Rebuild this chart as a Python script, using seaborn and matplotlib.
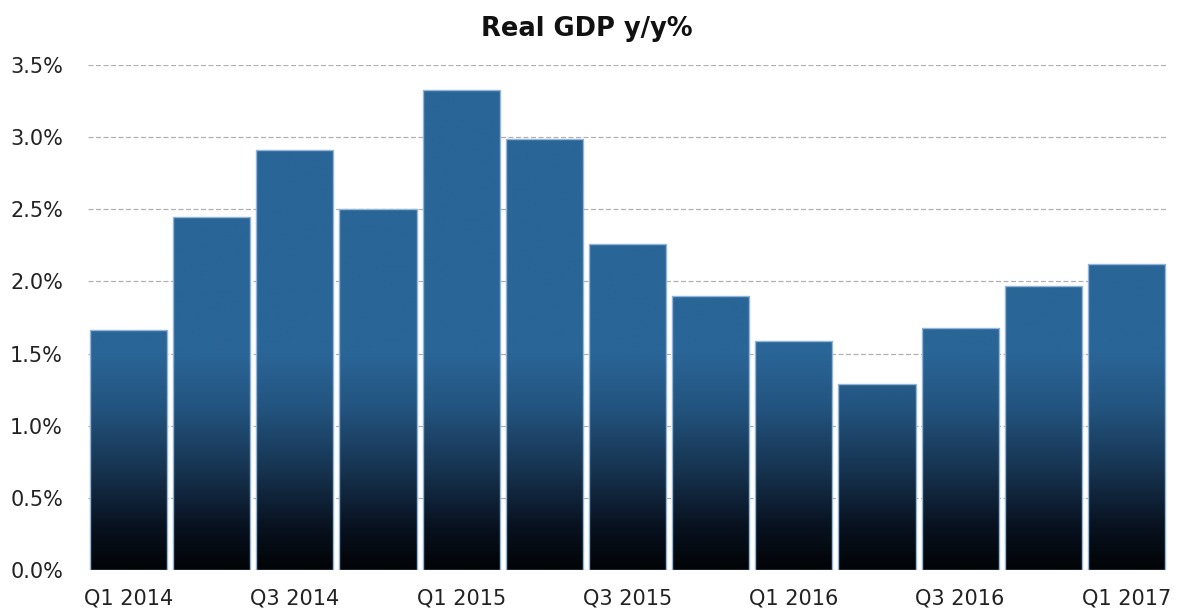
import numpy as np
import pandas as pd
import matplotlib
matplotlib.use("Agg")
import matplotlib.pyplot as plt
import seaborn as sns
from matplotlib.colors import LinearSegmentedColormap
from matplotlib.ticker import FuncFormatter

quarters = ["Q1 2014", "Q2 2014", "Q3 2014", "Q4 2014",
            "Q1 2015", "Q2 2015", "Q3 2015", "Q4 2015",
            "Q1 2016", "Q2 2016", "Q3 2016", "Q4 2016",
            "Q1 2017"]
gdp_yy = [1.66, 2.45, 2.91, 2.50, 3.33, 2.99, 2.26, 1.90,
          1.59, 1.29, 1.68, 1.97, 2.12]

df = pd.DataFrame({"quarter": quarters, "gdp": gdp_yy})

sns.set_style("white")
plt.rcParams["font.family"] = ["DejaVu Sans"]

fig = plt.figure(figsize=(11.77, 6.14), dpi=100)
ax = fig.add_axes([88 / 1177, 44 / 614, 1080 / 1177, 505 / 614])

sns.barplot(data=df, x="quarter", y="gdp", ax=ax, width=0.927,
            color="#2a6597", edgecolor="#92b5d8", linewidth=1.0, zorder=2)

xlim = (-0.488, len(quarters) - 0.5)
ax.set_xlim(*xlim)
ax.set_ylim(0, 3.5)

# vertical gradient, blue on top to black at the baseline
cmap = LinearSegmentedColormap.from_list(
    "gdp", [(0.0, "#020406"), (0.2, "#081220"), (0.45, "#16324e"),
            (0.75, "#23547f"), (1.0, "#2a6597")])
grad = np.clip(np.linspace(0, 3.5, 400) / 1.5, 0, 1).reshape(-1, 1)
for bar in ax.patches:
    bar.set_facecolor("none")
    x0, w = bar.get_x(), bar.get_width()
    im = ax.imshow(grad, cmap=cmap, vmin=0, vmax=1, origin="lower",
                   extent=[x0, x0 + w, 0, 3.5], aspect="auto", zorder=1.5)
    im.set_clip_path(bar)
ax.set_xlim(*xlim)
ax.set_ylim(0, 3.5)

ax.set_yticks(np.arange(0, 3.51, 0.5))
ax.yaxis.set_major_formatter(FuncFormatter(lambda v, p: f"{v:.1f}%"))
ax.set_xticks(range(0, len(quarters), 2))
ax.set_xticklabels(quarters[::2])
ax.tick_params(axis="both", length=0, labelsize=15, colors="#222222")
ax.tick_params(axis="x", pad=13)
ax.tick_params(axis="y", pad=18)

ax.grid(axis="y", color="#b0b0b0", linestyle=(0, (4, 2)), linewidth=0.9, zorder=0)
ax.set_axisbelow(True)
for s in ax.spines.values():
    s.set_visible(False)
ax.set_xlabel("")
ax.set_ylabel("")
# title is centred on the figure, not on the axes
ax.set_title("Real GDP y/y%", fontsize=18.5, fontweight="bold", pad=21,
             color="#111111", x=(587 - 88) / 1080)

fig.savefig("out.png", dpi=100)
